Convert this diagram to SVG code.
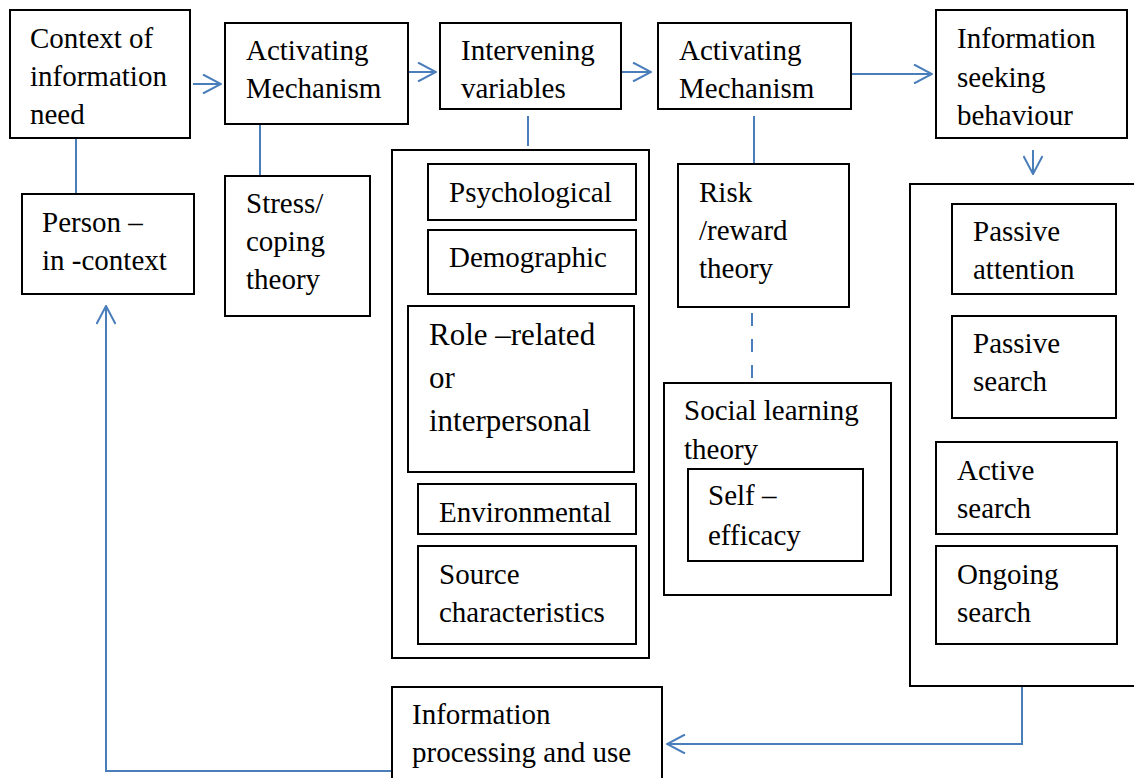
<svg xmlns="http://www.w3.org/2000/svg" width="1134" height="778" viewBox="0 0 1134 778">
  <style>
    .box { fill: #ffffff; stroke: #000000; stroke-width: 2; }
    text { font-family: 'Liberation Serif', Tinos, 'Times New Roman', 'DejaVu Serif', serif; font-size: 29px; fill: #000000; }
    .tl { font-size: 31px; }
    .link { fill: none; stroke: #4a7ebb; stroke-width: 2; }
    .dash { stroke-dasharray: 13 13; }
  </style>
  <defs>
    <marker id="open" viewBox="0 0 20 20" refX="19" refY="10" markerWidth="20" markerHeight="20" markerUnits="userSpaceOnUse" orient="auto">
      <path d="M1,0.5 L19,10 L1,19.5" fill="none" stroke="#4a7ebb" stroke-width="2"/>
    </marker>
  </defs>

  <!-- connectors -->
  <g id="connectors">
    <line class="link" x1="193" y1="84" x2="221" y2="84" marker-end="url(#open)"/>
    <line class="link" x1="408" y1="72" x2="436" y2="72" marker-end="url(#open)"/>
    <line class="link" x1="622" y1="72" x2="651" y2="72" marker-end="url(#open)"/>
    <line class="link" x1="851" y1="74" x2="932" y2="74" marker-end="url(#open)"/>
    <line class="link" x1="1033" y1="150" x2="1033" y2="174" marker-end="url(#open)"/>
    <line class="link" x1="76" y1="138" x2="76" y2="194"/>
    <line class="link" x1="260" y1="124" x2="260" y2="176"/>
    <line class="link" x1="528" y1="116" x2="528" y2="146"/>
    <line class="link" x1="754" y1="116" x2="754" y2="164"/>
    <line class="link dash" x1="752" y1="313" x2="752" y2="383"/>
    <polyline class="link" points="1022,686 1022,744 667,744" marker-end="url(#open)"/>
    <polyline class="link" points="392,771 106,771 106,306" marker-end="url(#open)"/>
  </g>

  <g id="context">
    <rect class="box" x="10" y="10" width="180" height="128"/>
    <text x="30" y="48">Context of</text>
    <text x="30" y="86">information</text>
    <text x="30" y="124">need</text>
  </g>

  <g id="person">
    <rect class="box" x="22" y="194" width="172" height="100"/>
    <text x="42" y="232">Person –</text>
    <text x="42" y="270">in -context</text>
  </g>

  <g id="activating1">
    <rect class="box" x="225" y="23" width="183" height="101"/>
    <text x="246" y="60">Activating</text>
    <text x="246" y="98">Mechanism</text>
  </g>

  <g id="stress">
    <rect class="box" x="225" y="176" width="145" height="140"/>
    <text x="246" y="213">Stress/</text>
    <text x="246" y="251">coping</text>
    <text x="246" y="289">theory</text>
  </g>

  <g id="intervening">
    <rect class="box" x="440" y="23" width="181" height="86"/>
    <text x="461" y="60">Intervening</text>
    <text x="461" y="98">variables</text>
  </g>

  <g id="variables">
    <rect class="box" x="392" y="150" width="257" height="508"/>
    <g id="psychological">
      <rect class="box" x="428" y="164" width="208" height="56"/>
      <text x="449" y="202">Psychological</text>
    </g>
    <g id="demographic">
      <rect class="box" x="428" y="230" width="208" height="64"/>
      <text x="449" y="267">Demographic</text>
    </g>
    <g id="role">
      <rect class="box" x="408" y="306" width="226" height="166"/>
      <text class="tl" x="429" y="345">Role –related</text>
      <text class="tl" x="429" y="388">or</text>
      <text class="tl" x="429" y="431">interpersonal</text>
    </g>
    <g id="environmental">
      <rect class="box" x="418" y="484" width="218" height="50"/>
      <text x="439" y="522">Environmental</text>
    </g>
    <g id="source">
      <rect class="box" x="418" y="546" width="218" height="98"/>
      <text x="439" y="584">Source</text>
      <text x="439" y="622">characteristics</text>
    </g>
  </g>

  <g id="activating2">
    <rect class="box" x="658" y="23" width="193" height="86"/>
    <text x="679" y="60">Activating</text>
    <text x="679" y="98">Mechanism</text>
  </g>

  <g id="risk">
    <rect class="box" x="678" y="164" width="171" height="143"/>
    <text x="699" y="202">Risk</text>
    <text x="699" y="240">/reward</text>
    <text x="699" y="278">theory</text>
  </g>

  <g id="social">
    <rect class="box" x="664" y="383" width="227" height="212"/>
    <text x="684" y="420">Social learning</text>
    <text x="684" y="459">theory</text>
    <g id="selfefficacy">
      <rect class="box" x="688" y="469" width="175" height="92"/>
      <text x="708" y="505">Self –</text>
      <text x="708" y="545">efficacy</text>
    </g>
  </g>

  <g id="seeking">
    <rect class="box" x="936" y="10" width="191" height="128"/>
    <text x="957" y="48">Information</text>
    <text x="957" y="87">seeking</text>
    <text x="957" y="125">behaviour</text>
  </g>

  <g id="modes">
    <rect class="box" x="910" y="184" width="240" height="502"/>
    <g id="passive-attention">
      <rect class="box" x="952" y="204" width="164" height="90"/>
      <text x="973" y="241">Passive</text>
      <text x="973" y="279">attention</text>
    </g>
    <g id="passive-search">
      <rect class="box" x="952" y="316" width="164" height="102"/>
      <text x="973" y="353">Passive</text>
      <text x="973" y="391">search</text>
    </g>
    <g id="active-search">
      <rect class="box" x="936" y="442" width="181" height="92"/>
      <text x="957" y="480">Active</text>
      <text x="957" y="518">search</text>
    </g>
    <g id="ongoing-search">
      <rect class="box" x="936" y="546" width="181" height="98"/>
      <text x="957" y="584">Ongoing</text>
      <text x="957" y="622">search</text>
    </g>
  </g>

  <g id="processing">
    <rect class="box" x="392" y="687" width="270" height="110"/>
    <text x="412" y="724">Information</text>
    <text x="412" y="762">processing and use</text>
  </g>
</svg>
